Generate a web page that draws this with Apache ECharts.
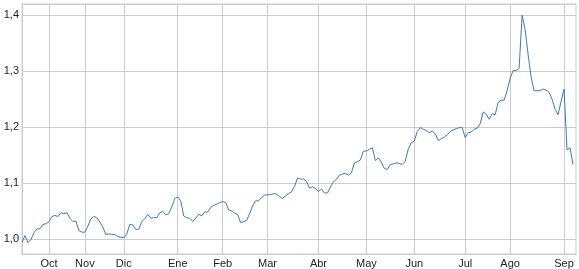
<!DOCTYPE html>
<html>
<head>
<meta charset="utf-8">
<script src="https://cdn.jsdelivr.net/npm/echarts@6/dist/echarts.min.js"></script>
<style>html,body{margin:0;padding:0;background:#fff}#c{width:579px;height:269px}</style>
</head>
<body>
<div id="c"></div>
<script>
const tickLabels = ['Oct','Nov','Dic','Ene','Feb','Mar','Abr','May','Jun','Jul','Ago','Sep'];
const tickIndex = [9,21,34,52,67,82,99,115,131,148,163,181];
const yTicks = [1.0, 1.1, 1.2, 1.3, 1.4];
const values = [
0.994,1.006,0.993,0.999,1.011,1.018,1.018,1.026,1.027,1.031,
1.040,1.042,1.040,1.047,1.045,1.047,1.037,1.031,1.032,1.015,
1.012,1.012,1.023,1.036,1.040,1.038,1.030,1.021,1.008,1.009,
1.008,1.008,1.004,1.003,1.002,1.009,1.026,1.025,1.017,1.017,
1.031,1.036,1.044,1.037,1.038,1.038,1.047,1.049,1.043,1.045,
1.057,1.072,1.075,1.068,1.041,1.038,1.037,1.031,1.037,1.044,
1.041,1.048,1.048,1.056,1.060,1.062,1.065,1.067,1.065,1.052,
1.050,1.046,1.044,1.029,1.031,1.033,1.045,1.059,1.068,1.068,
1.074,1.078,1.079,1.079,1.081,1.080,1.076,1.072,1.077,1.081,
1.084,1.094,1.109,1.107,1.107,1.103,1.091,1.093,1.090,1.085,
1.089,1.082,1.082,1.093,1.102,1.106,1.114,1.116,1.117,1.114,
1.118,1.136,1.138,1.141,1.157,1.157,1.160,1.163,1.140,1.145,
1.137,1.126,1.124,1.133,1.134,1.136,1.135,1.133,1.139,1.161,
1.172,1.175,1.192,1.199,1.196,1.194,1.190,1.193,1.188,1.176,
1.179,1.182,1.186,1.192,1.195,1.197,1.199,1.199,1.181,1.190,
1.191,1.196,1.198,1.206,1.227,1.223,1.214,1.224,1.222,1.244,
1.248,1.248,1.265,1.287,1.301,1.301,1.305,1.400,1.375,1.330,
1.290,1.265,1.265,1.265,1.268,1.266,1.262,1.250,1.232,1.222,
1.245,1.268,1.159,1.163,1.133,null
];
const categories = values.map((v, i) => String(i));
const labelAt = {};
tickIndex.forEach((idx, k) => { labelAt[idx] = tickLabels[k]; });
const isTick = (i) => Object.prototype.hasOwnProperty.call(labelAt, i);

const chart = echarts.init(document.getElementById('c'), null, {renderer: 'canvas'});
chart.setOption({
  animation: false,
  backgroundColor: '#ffffff',
  grid: {left: 22, right: 3, top: 4, bottom: 14, show: true, borderColor: '#cccccc', borderWidth: 1, containLabel: false},
  xAxis: {
    type: 'category',
    data: categories,
    boundaryGap: false,
    axisLine: {show: true, lineStyle: {color: '#cccccc', width: 1}},
    axisTick: {show: false},
    axisLabel: {
      interval: (i) => isTick(i),
      formatter: (v, i) => labelAt[i] || '',
      fontFamily: 'Liberation Sans, Arial, sans-serif',
      fontSize: 11,
      color: '#222',
      margin: 4
    },
    splitLine: {show: true, interval: (i) => isTick(i), lineStyle: {color: '#cccccc', width: 1}}
  },
  yAxis: {
    type: 'value',
    min: 0.973,
    max: 1.42,
    splitNumber: 4,
    axisLine: {show: true, lineStyle: {color: '#cccccc', width: 1}},
    axisTick: {show: false},
    axisLabel: {
      showMinLabel: false,
      showMaxLabel: false,
      formatter: (v) => yTicks.some(t => Math.abs(t - v) < 1e-6) ? v.toFixed(1).replace('.', ',') : '',
      fontFamily: 'Liberation Sans, Arial, sans-serif',
      fontSize: 11,
      color: '#222',
      margin: 3
    },
    splitLine: {show: true, lineStyle: {color: '#cccccc', width: 1}}
  },
  series: [{
    type: 'line',
    data: values,
    showSymbol: false,
    connectNulls: false,
    lineStyle: {color: '#3b7bb8', width: 1},
    itemStyle: {color: '#3b7bb8'}
  }]
});
</script>
</body>
</html>
